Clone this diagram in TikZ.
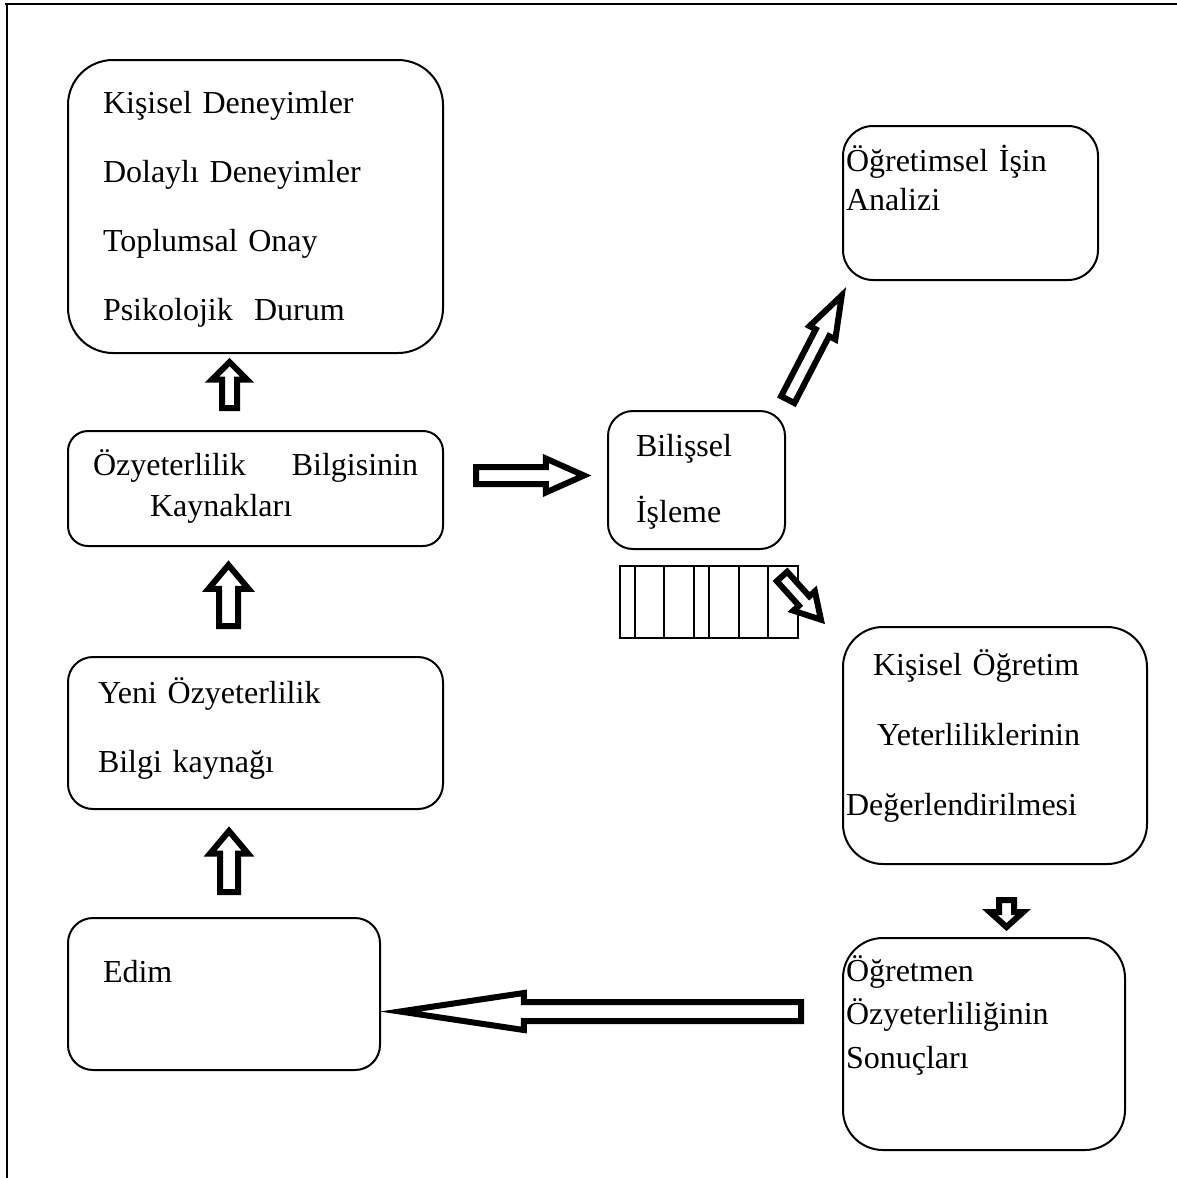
\documentclass[tikz,border=0pt]{standalone}
\usepackage{fontspec}
\setmainfont{Liberation Serif}
\usetikzlibrary{positioning,shapes.arrows,calc}

\tikzset{
box/.style={draw, line width=2pt, inner sep=0pt, text height=0pt, align=left},
hollow/.style={single arrow, draw, fill=white, line width=6pt, inner sep=0pt,
  single arrow head indent=0pt, sloped, allow upside down},
}
\newcommand\blockarrow[3][]{%
  \path let \p1=($(#3)-(#2)$), \n1={veclen(\x1,\y1)} in
    (#2) -- (#3) node[hollow, pos=0, anchor=tail, minimum height=\n1, #1] {};}

\begin{document}
\begin{tikzpicture}[x=1pt,y=-1pt]
\useasboundingbox (0,0) rectangle (1177,1178);

\draw[line width=2.5pt] (5,4) -- (1177,4);
\draw[line width=2pt] (7,4) -- (7,1178);

\node[box, rounded corners=45pt, minimum width=375pt, minimum height=293pt, text width=305pt,
  text depth=187pt, font=\fontsize{32}{69}\selectfont] (sources) at (255.5,206.5)
  {Kişisel Deneyimler\\Dolaylı Deneyimler\\Toplumsal Onay\\Psikolojik~ Durum};
\node[box, rounded corners=20pt, minimum width=375pt, minimum height=115pt, text width=325pt,
  text depth=27pt, font=\fontsize{32}{41}\selectfont] (kaynak) at (255.5,488.5)
  {\makebox[325pt][l]{Özyeterlilik\hfill Bilgisinin}\\\hspace*{57pt}Kaynakları};
\node[box, rounded corners=25pt, minimum width=375pt, minimum height=152pt, text width=315pt,
  text depth=60pt, font=\fontsize{32}{69}\selectfont] (yeni) at (255.5,733)
  {Yeni Özyeterlilik\\Bilgi kaynağı};
\node[box, rounded corners=25pt, minimum width=312pt, minimum height=152pt, text width=242pt,
  text depth=24pt, font=\fontsize{32}{40}\selectfont] (edim) at (224,994) {Edim};

\node[box, rounded corners=30pt, minimum width=255pt, minimum height=154pt, text width=249pt,
  text depth=64pt, font=\fontsize{32}{39}\selectfont] (analiz) at (970.5,203)
  {Öğretimsel İşin\\Analizi};
\node[box, rounded corners=25pt, minimum width=177pt, minimum height=138pt, text width=121pt,
  text depth=48pt, font=\fontsize{32}{66}\selectfont] (islem) at (696.5,480)
  {Bilişsel\\İşleme};
\node[box, rounded corners=40pt, minimum width=304pt, minimum height=237pt, text width=298pt,
  text depth=141pt, font=\fontsize{32}{70}\selectfont] (deger) at (995,745.5)
  {\hspace*{27pt}Kişisel Öğretim\\\hspace*{31pt}Yeterliliklerinin\\Değerlendirilmesi};
\node[box, rounded corners=40pt, minimum width=282pt, minimum height=212pt, text width=276pt,
  text depth=126pt, font=\fontsize{32}{43.5}\selectfont] (sonuc) at (984,1044)
  {Öğretmen\\Özyeterliliğinin\\Sonuçları};

% strip under Bilissel Isleme
\node[draw, line width=2pt, minimum width=178pt, minimum height=72pt] (grid) at (709,602) {};
\draw[line width=2.5pt] (635,566) rectangle (694,638);
\foreach \x in {664,709,739,768}
  \draw[line width=2pt] (\x,566) -- (\x,638);

\coordinate (t1) at (229.5,411);  \coordinate (h1) at (229.5,365);
\coordinate (t2) at (228.5,629);  \coordinate (h2) at (228.5,568);
\coordinate (t3) at (229,895);    \coordinate (h3) at (229,834);
\coordinate (t4) at (1006.5,897); \coordinate (h4) at (1006.5,924);
\coordinate (t5) at (473,475.5);  \coordinate (h5) at (581,475.5);
\coordinate (t6) at (786.4,402.3); \coordinate (h6) at (840.4,298);
\coordinate (t7) at (780,574.2);  \coordinate (h7) at (819,617.5);
\coordinate (t8) at (804,1011.5); \coordinate (h8) at (403,1011.5);

\blockarrow[inner ysep=4.5pt, single arrow head extend=10pt, single arrow tip angle=90]{t1}{h1}
\blockarrow[inner ysep=6.5pt, single arrow head extend=10.5pt, single arrow tip angle=80]{t2}{h2}
\blockarrow[inner ysep=6pt, single arrow head extend=10pt, single arrow tip angle=80]{t3}{h3}
\blockarrow[inner ysep=4.5pt, single arrow head extend=9pt, single arrow tip angle=96]{t4}{h4}
\blockarrow[inner ysep=5.5pt, single arrow head extend=8.5pt, single arrow tip angle=48]{t5}{h5}
\blockarrow[inner ysep=4.5pt, single arrow head extend=7pt, single arrow tip angle=38]{t6}{h6}
\blockarrow[inner ysep=4pt, single arrow head extend=7.5pt, single arrow tip angle=60]{t7}{h7}
\blockarrow[inner ysep=6.5pt, single arrow head extend=9pt, single arrow tip angle=17]{t8}{h8}
\end{tikzpicture}
\end{document}
